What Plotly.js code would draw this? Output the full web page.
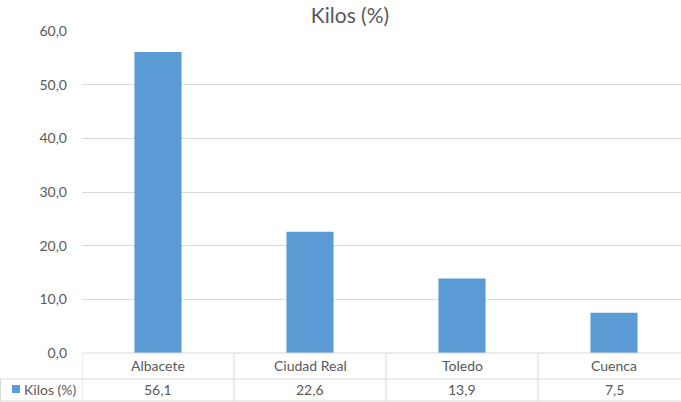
<!DOCTYPE html>
<html>
<head>
<meta charset="utf-8">
<script src="https://cdn.plot.ly/plotly-3.0.1.min.js"></script>
<style>
  html, body { margin: 0; padding: 0; overflow: hidden; background: #fff; }
  #chart { width: 690px; height: 402px; }
</style>
</head>
<body>
<div id="chart"></div>
<script>
// Share of kilos by province
const categories = ['Albacete', 'Ciudad Real', 'Toledo', 'Cuenca'];
const values = [56.1, 22.6, 13.9, 7.5];
const seriesName = 'Kilos (%)';
const yTicks = [0, 10, 20, 30, 40, 50, 60];

const BAR = '#5B9BD5';
const TEXT = '#595959';
const LINE = '#D9D9D9';
const FONT = 'Lato, "Open Sans", sans-serif';

// Pixel geometry of the plot frame
const W = 690, H = 402, L = 82, T = 31, PLOT_H = 322;
const PLOT_W = W - L;
const py = p => (T + PLOT_H - p) / PLOT_H;   // pixel row -> paper y
const px = p => (p - L) / PLOT_W;            // pixel col -> paper x

const fmt = v => v.toFixed(1).replace('.', ',');

const rowTop = py(353), rowMid = py(379), rowBot = py(401);
const shapes = [];
const line = (x0, y0, x1, y1, xref) => shapes.push({
  type: 'line', xref: xref || 'paper', yref: 'paper',
  x0, y0, x1, y1, line: { color: LINE, width: 1 }
});

// data table grid
line(0, rowTop, 1, rowTop);
line(px(0), rowMid, 1, rowMid);
line(px(0), rowBot, 1, rowBot);
line(px(0.5), rowMid, px(0.5), rowBot);
for (let i = 0; i <= categories.length; i++) {
  line(i - 0.5, rowTop, i - 0.5, rowBot, 'x');
}
// legend key in the table
shapes.push({
  type: 'rect', xref: 'paper', yref: 'paper',
  x0: px(12), x1: px(20), y0: py(393), y1: py(385),
  fillcolor: BAR, line: { width: 0 }
});

const cellFont = { family: FONT, size: 14, color: TEXT };
const annotations = [];
categories.forEach((c, i) => {
  annotations.push({
    x: c, xref: 'x', y: py(365), yref: 'paper', text: c, showarrow: false,
    xanchor: 'center', yanchor: 'middle', font: cellFont
  });
  annotations.push({
    x: c, xref: 'x', y: py(389), yref: 'paper', text: fmt(values[i]), showarrow: false,
    xanchor: 'center', yanchor: 'middle', font: cellFont
  });
});
annotations.push({
  x: px(22), xref: 'paper', y: py(389), yref: 'paper', text: seriesName, showarrow: false,
  xanchor: 'left', yanchor: 'middle', font: cellFont
});

const trace = {
  type: 'bar', x: categories, y: values, name: seriesName,
  marker: { color: BAR, line: { width: 0 } },
  hoverinfo: 'none'
};

const layout = {
  width: W, height: H,
  margin: { l: L, r: 0, t: T, b: H - T - PLOT_H, pad: 0 },
  paper_bgcolor: '#fff', plot_bgcolor: '#fff',
  separators: ',.',
  showlegend: false,
  bargap: 0.69,
  title: {
    text: seriesName, xref: 'container', yref: 'container',
    x: 350 / W, xanchor: 'center', y: 1 - 16 / H, yanchor: 'middle',
    font: { family: FONT, size: 21, color: TEXT }
  },
  xaxis: {
    type: 'category', showticklabels: false, showgrid: false, zeroline: false,
    showline: false, ticks: '', range: [-0.5, categories.length - 0.5], fixedrange: true
  },
  yaxis: {
    range: [0, 60], tickvals: yTicks, ticktext: yTicks.map(fmt),
    showgrid: true, gridcolor: LINE, gridwidth: 1, zeroline: false, showline: false,
    ticks: '', ticklabelstandoff: 14,
    tickfont: { family: FONT, size: 14, color: TEXT }, fixedrange: true
  },
  shapes, annotations
};

Plotly.newPlot('chart', [trace], layout, { displayModeBar: false, staticPlot: true });
</script>
</body>
</html>
